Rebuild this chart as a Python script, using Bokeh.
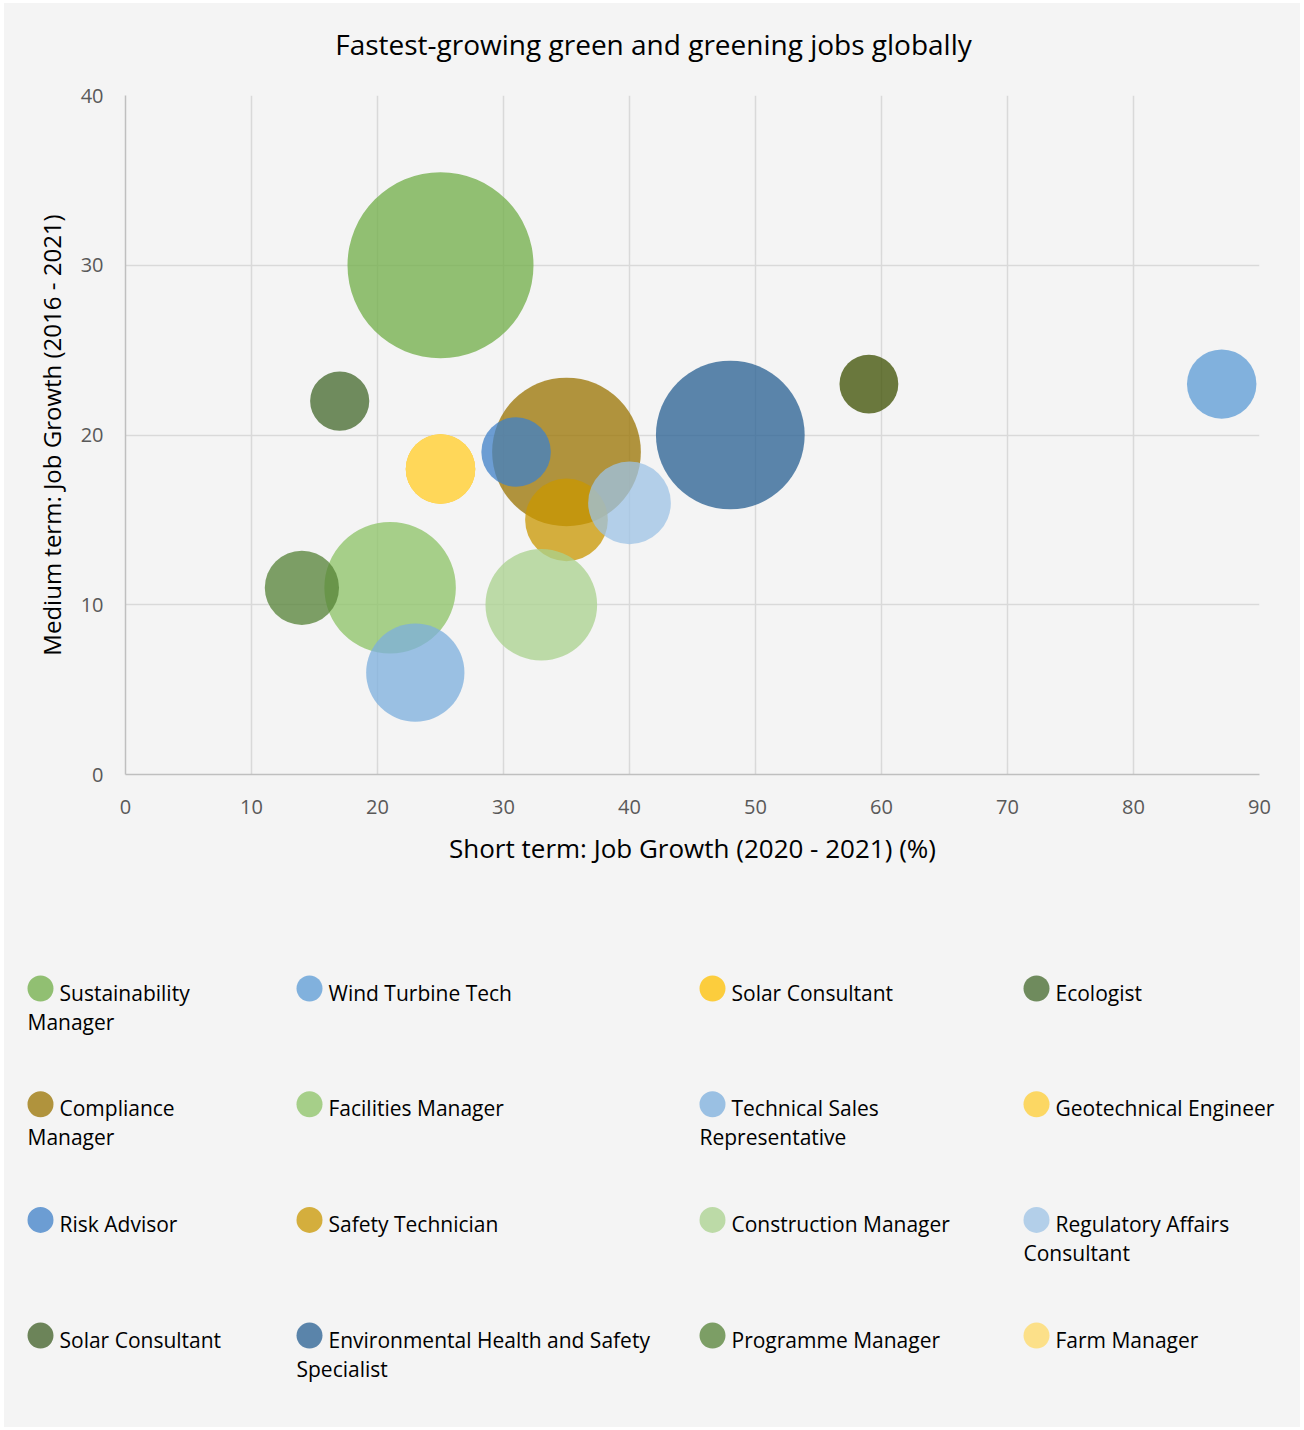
import math
from bokeh.plotting import figure
from bokeh.models import ColumnDataSource, Range1d, FixedTicker
from bokeh.layouts import column
from bokeh.embed import file_html
from bokeh.resources import INLINE
from bokeh.core.properties import value

# ---------------- data ----------------
title_text = "Fastest-growing green and greening jobs globally"
x_label = "Short term: Job Growth (2020 - 2021) (%)"
y_label = "Medium term: Job Growth (2016 - 2021)"

jobs = [
    "Sustainability Manager", "Wind Turbine Tech", "Solar Consultant", "Ecologist",
    "Compliance Manager", "Facilities Manager", "Technical Sales Representative", "Geotechnical Engineer",
    "Risk Advisor", "Safety Technician", "Construction Manager", "Regulatory Affairs Consultant",
    "Solar Consultant", "Environmental Health and Safety Specialist", "Programme Manager", "Farm Manager",
]
short_term = [25, 87, 25, 17, 35, 21, 23, 25, 31, 35, 33, 40, 59, 48, 14, 25]
medium_term = [30, 23, 18, 22, 19, 11, 6, 18, 19, 15, 10, 16, 23, 20, 11, 18]
bubble_value = [86, 12, 12, 8.7, 55, 43, 24, 12, 12, 17, 31, 17, 8.6, 55, 13.7, 12]

colors = [
    "#70AD47", "#5B9BD5", "#FFC000", "#43682B",
    "#997300", "#8CC365", "#7CAFDD", "#FFCD33",
    "#3F80C8", "#CA9700", "#A9D18E", "#9DC3E6",
    "#3C4F00", "#275F91", "#548235", "#FFD966",
]
legend_colors = [
    "#70AD47", "#5B9BD5", "#FFC000", "#43682B",
    "#997300", "#8CC365", "#7CAFDD", "#FFCD33",
    "#3F80C8", "#CA9700", "#A9D18E", "#9DC3E6",
    "#3F5F26", "#275F91", "#548235", "#FFD966",
]
# words on the first legend line (0 = no wrap)
legend_first_line_words = [1, 0, 0, 0, 1, 0, 2, 0, 0, 0, 0, 2, 0, 4, 0, 0]

x_ticks = [0, 10, 20, 30, 40, 50, 60, 70, 80, 90]
y_ticks = [0, 10, 20, 30, 40]

# ---------------- style ----------------
FONT = "Open Sans"
BG = "#f4f4f4"
W = 1296
ALPHA = 0.75
MAX_DIAM = 186.0

# ---------------- title figure ----------------
TH = 77
tf = figure(width=W, height=TH, x_range=Range1d(0, W), y_range=Range1d(TH, 0),
            x_axis_type=None, y_axis_type=None, toolbar_location=None,
            output_backend="svg", min_border=0, frame_align=False)
tf.background_fill_color = BG
tf.border_fill_color = BG
tf.outline_line_color = None
tf.grid.visible = False
tf.text(x=[W / 2 + 1], y=[40], text=[title_text], text_align="center", text_baseline="middle",
        text_font=value(FONT), text_font_size="28px", text_color="#000000")

# ---------------- main figure ----------------
vmax = max(bubble_value)
src = ColumnDataSource(dict(
    x=short_term, y=medium_term, job=jobs, color=colors,
    diam=[MAX_DIAM * math.sqrt(v / vmax) for v in bubble_value],
))

p = figure(frame_width=1134, frame_height=679, x_range=Range1d(0, 90), y_range=Range1d(0, 40),
           toolbar_location=None, output_backend="svg", frame_align=False,
           min_border_left=121, min_border_right=41, min_border_top=15, min_border_bottom=100)
p.background_fill_color = BG
p.border_fill_color = BG
p.outline_line_color = None

p.scatter(x="x", y="y", size="diam", source=src, fill_color="color",
          fill_alpha=ALPHA, line_color=None)

p.xaxis.ticker = FixedTicker(ticks=x_ticks)
p.yaxis.ticker = FixedTicker(ticks=y_ticks)
p.xaxis.axis_label = x_label
p.yaxis.axis_label = y_label
for ax in (p.xaxis, p.yaxis):
    ax.axis_line_color = "#bfbfbf"
    ax.axis_line_width = 1.5
    ax.major_tick_line_color = None
    ax.minor_tick_line_color = None
    ax.major_tick_out = 0
    ax.major_tick_in = 0
    ax.major_label_text_font = FONT
    ax.major_label_text_font_size = "20px"
    ax.major_label_text_color = "#595959"
    ax.axis_label_text_font = FONT
    ax.axis_label_text_font_style = "normal"
    ax.axis_label_text_color = "#000000"
p.xaxis.axis_label_text_font_size = "26px"
p.yaxis.axis_label_text_font_size = "24px"
p.xaxis.major_label_standoff = 25
p.yaxis.major_label_standoff = 22
p.xaxis.axis_label_standoff = 13
p.yaxis.axis_label_standoff = 10
p.grid.grid_line_color = "#d9d9d9"
p.grid.grid_line_width = 1.5

# ---------------- legend figure ----------------
LH = 553
lf = figure(width=W, height=LH, x_range=Range1d(0, W), y_range=Range1d(LH, 0),
            x_axis_type=None, y_axis_type=None, toolbar_location=None,
            output_backend="svg", min_border=0, frame_align=False)
lf.background_fill_color = BG
lf.border_fill_color = BG
lf.outline_line_color = None
lf.grid.visible = False

col_x = [36, 305, 708, 1032]
row_top = 114
row_gap = 115.7
MR = 13
mx, my, mc = [], [], []
tx, ty, tt = [], [], []
for i, name in enumerate(jobs):
    r, c = divmod(i, 4)
    cx = col_x[c]
    cy = row_top + r * row_gap
    mx.append(cx); my.append(cy); mc.append(legend_colors[i])
    words = name.split(" ")
    n = legend_first_line_words[i]
    if n:
        tx.append(cx + 19); ty.append(cy + 4); tt.append(" ".join(words[:n]))
        tx.append(cx - MR); ty.append(cy + 33); tt.append(" ".join(words[n:]))
    else:
        tx.append(cx + 19); ty.append(cy + 4); tt.append(name)

lf.scatter(x=mx, y=my, size=2 * MR, fill_color=mc, fill_alpha=ALPHA, line_color=None)
lf.text(x=tx, y=ty, text=tt, text_baseline="middle", text_align="left",
        text_font=value(FONT), text_font_size="21px", text_color="#000000")

layout = column(tf, p, lf, spacing=0, margin=(3, 4, 3, 4), styles={"background-color": BG})
open("out.html", "w").write(file_html(layout, INLINE))
